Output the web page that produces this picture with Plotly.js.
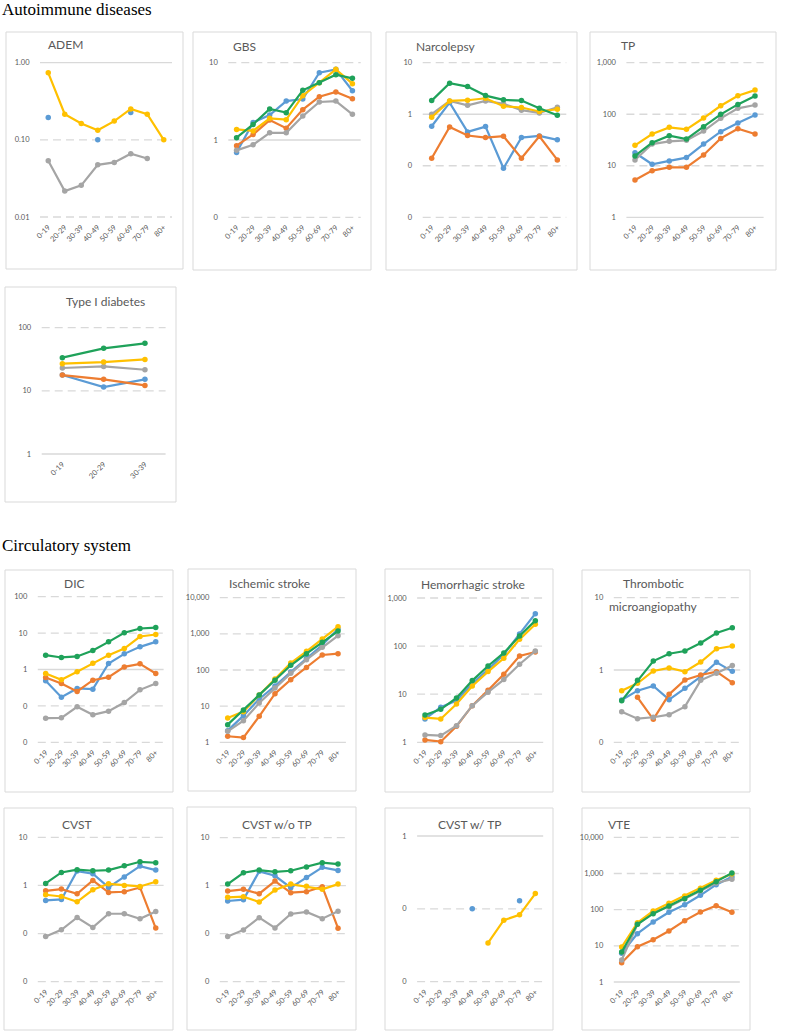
<!DOCTYPE html>
<html><head><meta charset="utf-8">
<script src="https://cdn.plot.ly/plotly-3.0.1.min.js"></script>
<style>html,body{margin:0;padding:0;background:#fff}#chart{width:787px;height:1032px}</style>
</head><body><div id="chart"></div>
<script>
// ---------- categories ----------
const AGES8 = ['0-19','20-29','30-39','40-49','50-59','60-69','70-79','80+'];
const AGES3 = ['0-19','20-29','30-39'];

// ---------- panel titles ----------
const TITLES = ['ADEM','GBS','Narcolepsy','TP','Type I diabetes','DIC','Ischemic stroke','Hemorrhagic stroke',
  'Thrombotic|microangiopathy','CVST','CVST w/o TP','CVST w/ TP','VTE'];
const SECTION_TITLES = ['Autoimmune diseases','Circulatory system'];

// ---------- tick labels ----------
const TV_001_1 = [1,0.1,0.01];        const TT_ADEM = ['1.00','0.10','0.01'];
const TV_01_10 = [10,1,0.1];          const TT_01_10 = ['10','1','0'];
const TV_001_10 = [10,1,0.1,0.01];    const TT_001_10 = ['10','1','0','0'];
const TV_1_1000 = [1000,100,10,1];    const TT_1_1000 = ['1,000','100','10','1'];
const TV_1_100 = [100,10,1];          const TT_1_100 = ['100','10','1'];
const TV_001_100 = [100,10,1,0.1,0.01]; const TT_001_100 = ['100','10','1','0','0'];
const TV_1_10000 = [10000,1000,100,10,1]; const TT_1_10000 = ['10,000','1,000','100','10','1'];
const TT_001_1 = ['1','0','0'];

// ---------- data (series: blue, orange, gray, yellow, green) ----------
const ADEM_blue   = [0.195,null,null,0.10,null,0.226,null,null];
const ADEM_orange = [null,null,null,null,null,null,null,null];
const ADEM_gray   = [0.0535,0.0217,0.0257,0.0475,0.051,0.066,0.0574,null];
const ADEM_yellow = [0.74,0.215,0.163,0.133,0.175,0.252,0.215,0.10];
const ADEM_green  = [null,null,null,null,null,null,null,null];

const GBS_blue   = [0.69,1.69,2.10,3.19,3.39,7.43,8.2,4.34];
const GBS_orange = [0.845,1.18,1.81,1.42,2.47,3.63,4.18,3.42];
const GBS_gray   = [0.735,0.87,1.24,1.24,2.04,3.10,3.19,2.15];
const GBS_yellow = [1.37,1.31,1.91,1.83,3.74,5.51,8.2,5.35];
const GBS_green  = [1.07,1.59,2.52,2.26,4.39,5.51,7.0,6.27];

const NARC_blue   = [0.585,1.68,0.454,0.576,0.0897,0.353,0.38,0.318];
const NARC_orange = [0.140,0.568,0.386,0.353,0.374,0.140,0.374,0.130];
const NARC_gray   = [1.0,1.81,1.49,1.81,1.59,1.20,1.06,1.37];
const NARC_yellow = [0.875,1.81,1.87,2.04,1.43,1.35,1.13,1.25];
const NARC_green  = [1.84,3.99,3.44,2.30,1.90,1.84,1.31,0.957];

const TP_blue   = [17.9,10.7,12.4,14.4,26.4,45.8,67.5,96.5];
const TP_orange = [5.30,8.04,9.33,9.33,16.2,34.0,52.4,41.3];
const TP_gray   = [12.9,26.4,29.8,31.1,47.2,83.2,130,151];
const TP_yellow = [24.9,41.3,55.6,50.9,84.4,146,229,294];
const TP_green  = [15.5,28.0,38.4,33.0,57.3,99.4,155,225];

const T1D_blue   = [17.8,11.5,15.2];
const T1D_orange = [17.8,15.2,12.2];
const T1D_gray   = [23.0,24.4,21.6];
const T1D_yellow = [26.9,28.6,31.5];
const T1D_green  = [33.5,47.1,56.5];

const DIC_blue   = [0.489,0.174,0.301,0.288,1.46,2.69,4.19,5.75];
const DIC_orange = [0.603,0.413,0.249,0.509,0.616,1.18,1.43,0.776];
const DIC_gray   = [0.0461,0.0471,0.0944,0.0569,0.0718,0.124,0.276,0.413];
const DIC_yellow = [0.776,0.520,0.863,1.49,2.48,3.77,8.06,9.14];
const DIC_green  = [2.48,2.14,2.28,3.32,5.75,10.2,13.4,14.2];

const ISCH_blue   = [2.10,5.46,15.8,36.1,88.0,210,491,1361];
const ISCH_orange = [1.47,1.35,5.23,22.2,54.0,118,260,283];
const ISCH_gray   = [2.01,3.97,12.2,31.8,80.9,193,423,890];
const ISCH_yellow = [4.71,7.05,20.3,56.4,156,328,720,1578];
const ISCH_green  = [3.08,7.83,20.3,51.8,135,283,582,1197];

const HEM_blue   = [3.06,5.34,7.35,16.6,32.5,66.5,179,473];
const HEM_orange = [1.12,1.03,2.15,5.78,12.1,25.9,62.4,75.5];
const HEM_gray   = [1.42,1.38,2.22,5.78,11.0,20.1,41.9,79.2];
const HEM_yellow = [3.26,3.06,6.27,14.8,29.5,55.7,138,284];
const HEM_green  = [3.70,4.85,8.35,19.2,38.6,72.0,162,338];

const TMA_blue   = [0.385,0.518,0.601,0.389,0.558,0.809,1.28,0.958];
const TMA_orange = [null,0.419,0.208,0.461,0.727,0.853,0.948,0.668];
const TMA_gray   = [0.265,0.212,0.222,0.241,0.311,0.720,0.899,1.15];
const TMA_yellow = [0.518,0.654,0.969,1.07,0.948,1.29,1.97,2.15];
const TMA_green  = [0.377,0.720,1.33,1.68,1.83,2.36,3.25,3.85];

const CVST_blue   = [0.488,0.512,1.99,1.75,0.908,1.49,2.52,2.08];
const CVST_orange = [0.774,0.839,0.671,1.27,0.715,0.738,0.908,0.130];
const CVST_gray   = [0.0871,0.120,0.216,0.134,0.258,0.258,0.203,0.288];
const CVST_yellow = [0.640,0.590,0.457,0.813,1.08,1.0,0.953,1.19];
const CVST_green  = [1.10,1.86,2.12,2.02,2.08,2.56,3.10,2.96];

const CVSTWO_blue   = [0.480,0.512,1.99,1.61,0.908,1.49,2.41,2.08];
const CVSTWO_orange = [0.774,0.839,0.682,1.25,0.715,0.750,0.953,0.130];
const CVSTWO_gray   = [0.0871,0.120,0.216,0.132,0.258,0.284,0.206,0.292];
const CVSTWO_yellow = [0.572,0.590,0.457,0.813,1.08,0.969,0.839,1.08];
const CVSTWO_green  = [1.08,1.86,2.12,1.95,2.05,2.44,3.01,2.82];

const CVSTW_blue   = [null,null,null,0.10,null,null,0.129,null];
const CVSTW_orange = [null,null,null,null,null,null,null,null];
const CVSTW_gray   = [null,null,null,null,null,null,null,null];
const CVSTW_yellow = [null,null,null,null,0.0341,0.0699,0.0827,0.162];
const CVSTW_green  = [null,null,null,null,null,null,null,null];

const VTE_blue   = [6.21,21.7,45.6,84.4,137,249,491,817];
const VTE_orange = [3.42,9.48,14.8,25.7,49.7,86.2,129,84.4];
const VTE_gray   = [4.06,39.3,84.4,121,201,335,546,690];
const VTE_yellow = [9.28,43.7,91.9,150,239,389,648,968];
const VTE_green  = [6.75,39.3,77.5,126,201,342,594,1032];

// ---------- styling ----------
const COLORS = {blue:'#5B9BD5', orange:'#ED7D31', gray:'#A5A5A5', yellow:'#FFC000', green:'#1FA25A'};
const FONT = 'Lato, "Liberation Sans", Arial, sans-serif';
const W = 787, H = 1032;
const fx = p => p / W;
const fy = p => 1 - p / H;

// panel layout in pixels: box [l,t,r,b], plot x [l,r], plot y [top,bottom], title pos
const PANELS = [
  {cats:AGES8, s:[ADEM_blue,ADEM_orange,ADEM_gray,ADEM_yellow,ADEM_green], box:[6,32,183,269], px:[40,172], py:[62.7,217], r:[-2,0], tv:TV_001_1, tt:TT_ADEM, t:[65,45]},
  {cats:AGES8, s:[GBS_blue,GBS_orange,GBS_gray,GBS_yellow,GBS_green], box:[193,32,371,270], px:[228.3,360.7], py:[62.7,217.3], r:[-1,1], tv:TV_01_10, tt:TT_01_10, t:[245,46.5]},
  {cats:AGES8, s:[NARC_blue,NARC_orange,NARC_gray,NARC_yellow,NARC_green], box:[386,32,577,270], px:[422.7,566.3], py:[62.7,217.3], r:[-2,1], tv:TV_001_10, tt:TT_001_10, t:[445.5,46.5]},
  {cats:AGES8, s:[TP_blue,TP_orange,TP_gray,TP_yellow,TP_green], box:[590,32,776,270], px:[626.4,763.6], py:[62.7,217.3], r:[0,3], tv:TV_1_1000, tt:TT_1_1000, t:[627.5,45.5]},
  {cats:AGES3, s:[T1D_blue,T1D_orange,T1D_gray,T1D_yellow,T1D_green], box:[5,287,176,502], px:[41.7,165.6], py:[327.7,454], r:[0,2], tv:TV_1_100, tt:TT_1_100, t:[105,301]},
  {cats:AGES8, s:[DIC_blue,DIC_orange,DIC_gray,DIC_yellow,DIC_green], box:[5,570,173,792], px:[37.8,163.6], py:[596.7,742.3], r:[-2,2], tv:TV_001_100, tt:TT_001_100, t:[74,583]},
  {cats:AGES8, s:[ISCH_blue,ISCH_orange,ISCH_gray,ISCH_yellow,ISCH_green], box:[188,569,356,791], px:[219.8,345.9], py:[597.7,742.3], r:[0,4], tv:TV_1_10000, tt:TT_1_10000, t:[269,583.3]},
  {cats:AGES8, s:[HEM_blue,HEM_orange,HEM_gray,HEM_yellow,HEM_green], box:[385,569,553,792], px:[417.1,543.2], py:[598,742.3], r:[0,3], tv:TV_1_1000, tt:TT_1_1000, t:[473.3,584.3]},
  {cats:AGES8, s:[TMA_blue,TMA_orange,TMA_gray,TMA_yellow,TMA_green], box:[582,570,750,792], px:[613.8,740.2], py:[597.7,742.3], r:[-1,1], tv:TV_01_10, tt:TT_01_10, t:[653,583.3], t2:[653,606.7]},
  {cats:AGES8, s:[CVST_blue,CVST_orange,CVST_gray,CVST_yellow,CVST_green], box:[4,808,173,1030], px:[37.8,163.6], py:[837.3,981.7], r:[-2,1], tv:TV_001_10, tt:TT_001_10, t:[76.7,824]},
  {cats:AGES8, s:[CVSTWO_blue,CVSTWO_orange,CVSTWO_gray,CVSTWO_yellow,CVSTWO_green], box:[187,807,356,1030], px:[219.8,345.9], py:[837.7,981.7], r:[-2,1], tv:TV_001_10, tt:TT_001_10, t:[276.7,824]},
  {cats:AGES8, s:[CVSTW_blue,CVSTW_orange,CVSTW_gray,CVSTW_yellow,CVSTW_green], box:[385,808,553,1030], px:[417.1,543.2], py:[836,981.7], r:[-2,0], tv:TV_001_1, tt:TT_001_1, t:[470,824]},
  {cats:AGES8, s:[VTE_blue,VTE_orange,VTE_gray,VTE_yellow,VTE_green], box:[582,808,750,1030], px:[613.8,739.8], py:[837.3,982], r:[0,4], tv:TV_1_10000, tt:TT_1_10000, t:[619,824]}
];

const SERIES_COLORS = [COLORS.blue, COLORS.orange, COLORS.gray, COLORS.yellow, COLORS.green];
const GRID_COLOR = '#D9D9D9';

const traces = [];
const layout = {
  width: W, height: H, autosize: false,
  margin: {l:0, r:0, t:0, b:0, pad:0},
  paper_bgcolor: '#ffffff', plot_bgcolor: 'rgba(0,0,0,0)',
  showlegend: false, hovermode: false,
  font: {family: FONT, color: '#595959'},
  shapes: [], annotations: []
};

PANELS.forEach((p, i) => {
  const n = i + 1;
  const xa = n === 1 ? 'x' : 'x' + n;
  const ya = n === 1 ? 'y' : 'y' + n;
  const xk = n === 1 ? 'xaxis' : 'xaxis' + n;
  const yk = n === 1 ? 'yaxis' : 'yaxis' + n;

  layout[xk] = {
    domain: [fx(p.px[0]), fx(p.px[1])], anchor: ya, type: 'category',
    categoryorder: 'array', categoryarray: p.cats,
    range: [-0.5, p.cats.length - 0.5],
    showgrid: false, zeroline: false, showline: false, ticks: 'outside', ticklen: 2, tickcolor: 'rgba(0,0,0,0)',
    tickangle: -45, tickfont: {family: FONT, size: 7.5, color: '#595959'}, fixedrange: true
  };
  layout[yk] = {
    domain: [fy(p.py[1]), fy(p.py[0])], anchor: xa, type: 'log',
    range: p.r, tickmode: 'array', tickvals: p.tv, ticktext: p.tt,
    showgrid: false, zeroline: false, showline: false, ticks: 'outside', ticklen: 8, tickcolor: 'rgba(0,0,0,0)',
    tickfont: {family: FONT, size: 7.5, color: '#595959'}, fixedrange: true
  };

  // panel border
  layout.shapes.push({type:'rect', xref:'paper', yref:'paper',
    x0: fx(p.box[0]), x1: fx(p.box[2]), y0: fy(p.box[3]), y1: fy(p.box[1]),
    line: {color:'#D9D9D9', width:1}, fillcolor:'rgba(0,0,0,0)', layer:'below'});
  // gridlines: dashed for every tick value, solid at 1 (horizontal axis crossing)
  p.tv.forEach(v => {
    const frac = (Math.log10(v) - p.r[0]) / (p.r[1] - p.r[0]);
    const solid = Math.abs(v - 1) < 1e-9;
    layout.shapes.push({type:'line', xref: xa + ' domain', yref: ya + ' domain',
      x0: 0, x1: 1, y0: frac, y1: frac,
      line: {color: GRID_COLOR, width: 1.3, dash: solid ? 'solid' : '8px,5px'}, layer:'below'});
  });

  // title
  const parts = TITLES[i].split('|');
  layout.annotations.push({xref:'paper', yref:'paper', x: fx(p.t[0]), y: fy(p.t[1]),
    xanchor:'center', yanchor:'middle', showarrow:false, text: parts[0],
    font:{family: FONT, size: 12, color:'#595959'}});
  if (parts[1]) {
    layout.annotations.push({xref:'paper', yref:'paper', x: fx(p.t2[0]), y: fy(p.t2[1]),
      xanchor:'center', yanchor:'middle', showarrow:false, text: parts[1],
      font:{family: FONT, size: 12, color:'#595959'}});
  }

  p.s.forEach((vals, k) => {
    if (vals.every(v => v === null)) return;
    traces.push({
      type: 'scatter', mode: 'lines+markers', x: p.cats, y: vals,
      xaxis: xa, yaxis: ya, cliponaxis: false, connectgaps: false,
      line: {color: SERIES_COLORS[k], width: 2.2},
      marker: {color: SERIES_COLORS[k], size: 5.5},
      hoverinfo: 'skip'
    });
  });
});

// section titles
layout.annotations.push({xref:'paper', yref:'paper', x: 0, y: fy(9), xanchor:'left', yanchor:'middle',
  showarrow:false, text: SECTION_TITLES[0], font:{family:'"Liberation Serif", "Times New Roman", serif', size:17, color:'#000000'}});
layout.annotations.push({xref:'paper', yref:'paper', x: 0, y: fy(545), xanchor:'left', yanchor:'middle',
  showarrow:false, text: SECTION_TITLES[1], font:{family:'"Liberation Serif", "Times New Roman", serif', size:17, color:'#000000'}});

Plotly.newPlot('chart', traces, layout, {staticPlot: true, displayModeBar: false});
</script>
</body></html>
